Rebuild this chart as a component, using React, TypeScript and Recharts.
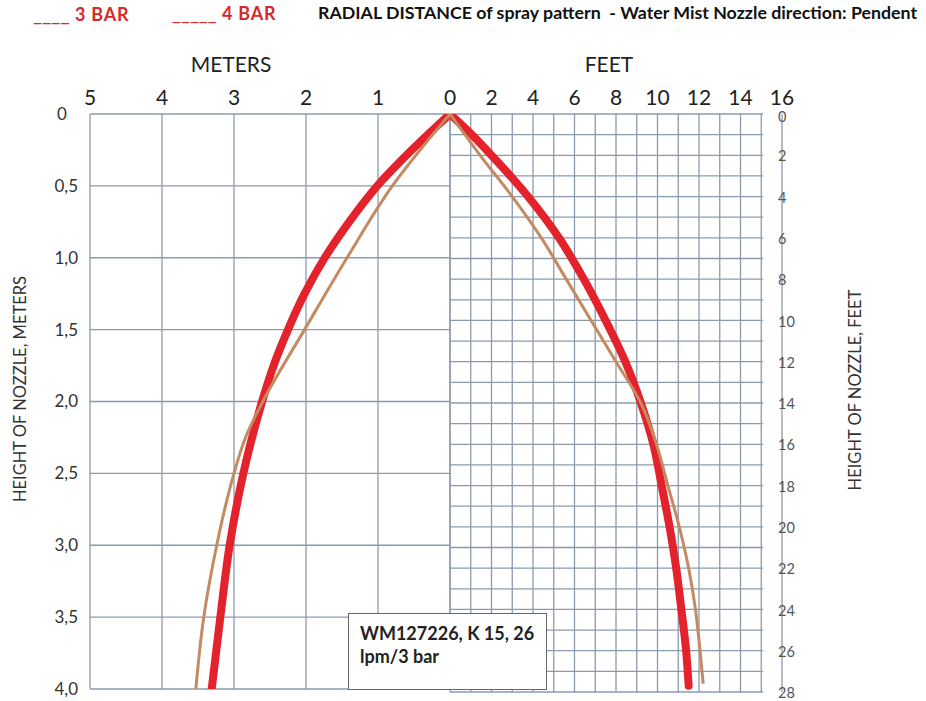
import React from 'react'
import { LineChart, Line, XAxis, YAxis, CartesianGrid } from 'recharts'

// tick values
const meterTicksX = [0, 1, 2, 3, 4, 5]
const meterTicksY = [0, 0.5, 1, 1.5, 2, 2.5, 3, 3.5, 4]
const feetLabelTicksX = [2, 4, 6, 8, 10, 12, 14, 16]
const feetGridTicksX = [0, 1, 2, 3, 4, 5, 6, 7, 8, 9, 10, 11, 12, 13, 14, 15]
const feetTicksY = [0, 1, 2, 3, 4, 5, 6, 7, 8, 9, 10, 11, 12, 13, 14, 15, 16, 17, 18, 19, 20, 21, 22, 23, 24, 25, 26, 27, 28]

// left half (meters): height below nozzle -> radial distance
const leftDepthRed = [0, 0.25, 0.5, 0.75, 1.0, 1.25, 1.5, 1.75, 2.0, 2.5, 3.0, 3.5, 4.0]
const leftRadiusRed = [0, 0.53, 1.01, 1.4, 1.74, 2.02, 2.25, 2.45, 2.61, 2.87, 3.06, 3.19, 3.31]
const leftDepthBrown = [0, 0.5, 1.0, 1.5, 2.0, 2.25, 2.5, 2.75, 3.0, 3.5, 4.0]
const leftRadiusBrown = [0, 0.8, 1.43, 2.02, 2.6, 2.84, 3.0, 3.13, 3.24, 3.42, 3.53]

// right half (feet)
const rightDepthRed = [0, 1, 2, 4, 6, 8, 10, 12, 14, 16, 18, 20, 22, 24, 26, 27.7]
const rightRadiusRed = [0, 1.05, 2.0, 3.76, 5.25, 6.45, 7.5, 8.45, 9.2, 9.8, 10.2, 10.58, 10.9, 11.15, 11.38, 11.5]
const rightDepthBrown = [0, 2, 4, 6, 8, 10, 12, 14, 16, 18, 20, 22, 24, 26, 27.6]
const rightRadiusBrown = [0, 1.45, 3.0, 4.4, 5.6, 6.8, 8.0, 9.2, 9.95, 10.5, 11.05, 11.5, 11.83, 12.05, 12.2]

const FONT = 'Lato, "Open Sans", sans-serif'
const GRID = '#8a9bae'
const RED = '#e3222b'
const BROWN = '#c48a62'

const toRows = (depth: number[], radius: number[]) => depth.map((d, i) => ({ d, r: radius[i] }))

const leftRed = toRows(leftDepthRed, leftRadiusRed)
const leftBrown = toRows(leftDepthBrown, leftRadiusBrown)
const rightRed = toRows(rightDepthRed, rightRadiusRed)
const rightBrown = toRows(rightDepthBrown, rightRadiusBrown)

const MeterTick = (p: any) => {
  const v = p.payload.value as number
  if (v === 0) {
    return (
      <text x={p.x - 28} y={p.y} dy="0.35em" textAnchor="middle" fontSize={17} fill="#333" fontFamily={FONT}>
        0
      </text>
    )
  }
  return (
    <text x={p.x - 12} y={p.y} dy="0.35em" textAnchor="end" fontSize={17} fill="#333" fontFamily={FONT}>
      {v.toFixed(1).replace('.', ',')}
    </text>
  )
}

const FeetTick = (p: any) => {
  const v = p.payload.value as number
  if (v % 2 !== 0) return <g />
  return (
    <text x={p.x - 4} y={p.y + (v === 0 ? 3 : 1)} dy="0.35em" textAnchor="start" fontSize={14.5} fill="#555" fontFamily={FONT}>
      {v}
    </text>
  )
}

const NoTick = () => <g />

const abs = (left: number, top: number): React.CSSProperties => ({ position: 'absolute', left, top })

const rotated = (cx: number, cy: number): React.CSSProperties => ({
  position: 'absolute',
  left: cx,
  top: cy,
  transform: 'translate(-50%, -50%) rotate(-90deg)',
  whiteSpace: 'nowrap',
  fontFamily: FONT,
  fontSize: 16.5,
  color: '#333',
})

export default function App() {
  const topTick = { fontSize: 21, fill: '#222', fontFamily: FONT }
  const legend: React.CSSProperties = { color: '#d42a2a', fontSize: 18, fontWeight: 700, whiteSpace: 'pre', lineHeight: '20px', letterSpacing: 0.8 }

  return (
    <div style={{ position: 'absolute', left: 0, top: 0, width: 926, height: 701, background: '#fff', overflow: 'hidden', fontFamily: FONT }}>
      {/* header */}
      <div style={{ ...abs(33, 3), ...legend }}>
        <span style={{ fontWeight: 400, fontSize: 20, letterSpacing: 0 }}>____</span> 3 BAR
      </div>
      <div style={{ ...abs(172, 3), ...legend }}>
        <span style={{ fontWeight: 400, fontSize: 19.5, letterSpacing: 0 }}>_____</span> 4 BAR
      </div>
      <div style={{ ...abs(318, 2), color: '#111', fontSize: 17.8, fontWeight: 700, whiteSpace: 'pre', lineHeight: '20px' }}>
        RADIAL DISTANCE of spray pattern  - Water Mist Nozzle direction: Pendent
      </div>

      <div style={{ position: 'absolute', left: 231, top: 63, transform: 'translate(-50%, -50%)', fontSize: 21, color: '#222' }}>METERS</div>
      <div style={{ position: 'absolute', left: 609, top: 63, transform: 'translate(-50%, -50%)', fontSize: 21, color: '#222' }}>FEET</div>

      {/* left half: meters */}
      <div style={abs(0, 0)}>
        <LineChart layout="vertical" width={926} height={701} margin={{ top: 74, right: 476, bottom: 12, left: 30 }}>
          <CartesianGrid stroke={GRID} strokeWidth={1.3} />
          <XAxis
            type="number"
            orientation="top"
            dataKey="r"
            domain={[0, 5]}
            ticks={meterTicksX}
            reversed
            interval={0}
            height={40}
            axisLine={false}
            tickLine={false}
            tickSize={0}
            tickMargin={9}
            tick={topTick}
            allowDataOverflow
          />
          <YAxis
            type="number"
            dataKey="d"
            domain={[0, 4]}
            ticks={meterTicksY}
            interval={0}
            width={60}
            axisLine={false}
            tickLine={false}
            tickSize={0}
            tickMargin={0}
            tick={MeterTick}
            allowDataOverflow
          />
          <Line data={leftRed} dataKey="r" type="monotone" stroke={RED} strokeWidth={8} strokeLinecap="round" strokeLinejoin="round" dot={false} isAnimationActive={false} />
          <Line data={leftBrown} dataKey="r" type="monotone" stroke={BROWN} strokeWidth={3} dot={false} isAnimationActive={false} />
        </LineChart>
      </div>

      {/* right half: feet */}
      <div style={abs(0, 0)}>
        <LineChart layout="vertical" width={926} height={701} margin={{ top: 74, right: 84, bottom: 9, left: 450 }}>
          <CartesianGrid xAxisId="grid" x={450} y={114} width={313} height={578} stroke={GRID} strokeWidth={1.3} />
          <XAxis
            xAxisId="grid"
            type="number"
            orientation="bottom"
            domain={[0, 16]}
            ticks={feetGridTicksX}
            interval={0}
            height={0}
            axisLine={false}
            tickLine={false}
            tick={NoTick}
            allowDataOverflow
          />
          <XAxis
            type="number"
            orientation="top"
            dataKey="r"
            domain={[0, 16]}
            ticks={feetLabelTicksX}
            interval={0}
            height={40}
            axisLine={false}
            tickLine={false}
            tickSize={0}
            tickMargin={9}
            tick={topTick}
            allowDataOverflow
          />
          <YAxis
            type="number"
            orientation="right"
            dataKey="d"
            domain={[0, 28]}
            ticks={feetTicksY}
            interval={0}
            width={60}
            axisLine={false}
            tickLine={false}
            tickSize={0}
            tickMargin={0}
            tick={FeetTick}
            allowDataOverflow
          />
          <Line data={rightRed} dataKey="r" type="monotone" stroke={RED} strokeWidth={8} strokeLinecap="round" strokeLinejoin="round" dot={false} isAnimationActive={false} />
          <Line data={rightBrown} dataKey="r" type="monotone" stroke={BROWN} strokeWidth={3} dot={false} isAnimationActive={false} />
        </LineChart>
      </div>

      <div style={rotated(20, 389)}>HEIGHT OF NOZZLE, METERS</div>
      <div style={rotated(855, 390)}>HEIGHT OF NOZZLE, FEET</div>

      {/* annotation box */}
      <div
        style={{
          position: 'absolute',
          left: 348,
          top: 613,
          width: 199,
          height: 77,
          boxSizing: 'border-box',
          border: '1.5px solid #666',
          background: '#fff',
          padding: '8px 0 0 11px',
          fontSize: 18,
          fontWeight: 700,
          lineHeight: '23px',
          color: '#222',
        }}
      >
        WM127226, K 15, 26
        <br />
        lpm/3 bar
      </div>
    </div>
  )
}
